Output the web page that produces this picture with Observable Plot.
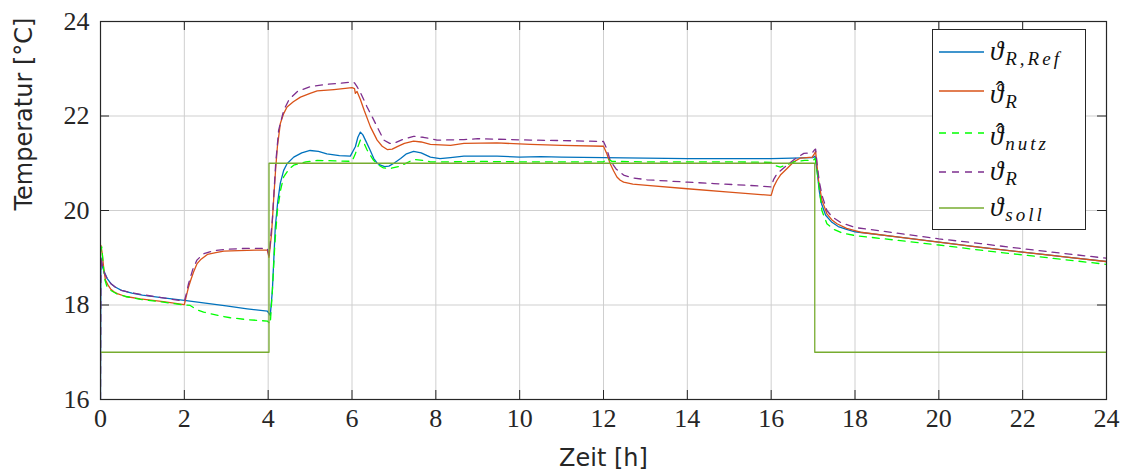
<!DOCTYPE html>
<html><head><meta charset="utf-8">
<script src="https://cdn.jsdelivr.net/npm/d3@7"></script>
<script src="https://cdn.jsdelivr.net/npm/@observablehq/plot@0.6"></script>
<style>
body{margin:0;background:#fff}
#wrap{position:relative;width:1126px;height:473px}
.legend{position:absolute;box-sizing:border-box;background:#fff;border:1px solid #262626;font-family:'Liberation Serif','Times New Roman',Tinos,'DejaVu Serif',serif;color:#111}
.legend .row{position:absolute;white-space:nowrap;font-style:italic;font-size:27px;line-height:27px}
.legend .sub{position:relative;top:5px;margin-left:2px;font-size:19px;letter-spacing:3px}
.legend .hat{position:absolute;width:20px;text-align:center;font-size:26px;line-height:26px}
</style>
</head><body>
<div id="wrap"></div>
<script>
// ---- data ----
const xTicks = [0,2,4,6,8,10,12,14,16,18,20,22,24];
const yTicks = [16,18,20,22,24];
const xLabel = "Zeit [h]";
const yLabel = "Temperatur [°C]";

// theta_R,Ref
const tRef = [0,0.01,0.05,0.1,0.16,0.25,0.35,0.5,0.75,1.0,1.5,2.0,2.5,3.0,3.5,3.98,4.05,4.1,4.17,4.23,4.29,4.37,4.45,4.61,4.8,5.0,5.2,5.4,5.7,5.96,6.08,6.14,6.2,6.26,6.32,6.42,6.52,6.6,6.68,6.78,6.88,7.0,7.16,7.3,7.47,7.65,7.87,8.1,8.35,8.67,9.0,9.46,10.0,10.5,11.0,12,13,14,15,16,16.5,17.0,17.05,17.1,17.15,17.2,17.3,17.45,17.6,17.8,18,19,20,21,22,23,24];
const vRef = [16,19.0,18.8,18.68,18.56,18.45,18.38,18.31,18.25,18.21,18.15,18.10,18.04,17.98,17.92,17.87,17.78,18.3,19.65,20.2,20.58,20.85,20.99,21.13,21.22,21.27,21.25,21.2,21.16,21.15,21.35,21.55,21.66,21.6,21.49,21.3,21.1,21.0,20.96,20.93,20.94,21.0,21.1,21.2,21.25,21.22,21.13,21.1,21.12,21.15,21.15,21.15,21.13,21.14,21.13,21.12,21.11,21.1,21.1,21.1,21.11,21.12,21.15,20.8,20.4,20.15,19.9,19.75,19.66,19.6,19.55,19.44,19.33,19.22,19.12,19.02,18.92];

// theta-hat_R
const tHat = [0,0.01,0.04,0.08,0.12,0.18,0.24,0.32,0.4,0.6,0.95,1.5,2.0,2.05,2.1,2.15,2.22,2.3,2.4,2.55,2.75,2.94,3.3,3.7,3.98,4.02,4.08,4.13,4.18,4.22,4.29,4.37,4.45,4.6,4.77,5.0,5.17,5.57,6.0,6.06,6.08,6.12,6.2,6.29,6.44,6.6,6.72,6.84,6.96,7.08,7.25,7.47,7.65,7.87,8.35,8.67,9.46,10.26,11.0,12.0,12.08,12.16,12.24,12.32,12.4,12.48,12.7,13.04,14.0,15.0,16.0,16.06,16.14,16.22,16.38,16.54,16.7,16.98,17.03,17.06,17.1,17.13,17.21,17.33,17.45,17.57,17.8,18.13,19,20,21,22,23,24];
const vHat = [19.2,19.26,19.1,18.75,18.52,18.42,18.34,18.28,18.24,18.18,18.13,18.07,18.01,18.2,18.38,18.52,18.7,18.87,18.97,19.07,19.11,19.14,19.15,19.16,19.16,19.01,19.5,20.22,20.9,21.35,21.84,22.05,22.19,22.3,22.4,22.48,22.53,22.56,22.6,22.58,22.48,22.52,22.35,22.12,21.77,21.49,21.36,21.29,21.3,21.35,21.42,21.47,21.45,21.4,21.38,21.42,21.43,21.4,21.38,21.36,21.2,20.99,20.84,20.71,20.64,20.6,20.56,20.53,20.46,20.39,20.32,20.5,20.64,20.75,20.89,21.03,21.11,21.13,21.2,21.25,20.9,20.64,20.22,19.93,19.8,19.72,19.62,19.54,19.44,19.33,19.22,19.12,19.02,18.92];

// theta-hat_nutz
const tNutz = [0,0.03,0.06,0.1,0.15,0.24,0.4,0.6,0.95,1.5,2.0,2.14,2.3,2.46,2.8,3.1,3.5,3.98,4.05,4.1,4.16,4.22,4.3,4.37,4.5,4.61,4.9,5.17,5.6,6.0,6.08,6.2,6.3,6.36,6.5,6.6,6.75,6.92,7.16,7.47,7.7,7.87,8.35,9,10,11,12,12.1,12.2,13,14,15,16,16.1,16.22,16.38,16.54,16.8,17.0,17.05,17.1,17.15,17.21,17.33,17.5,17.7,18,19,20,21,22,23,24];
const vNutz = [19.1,19.23,18.9,18.55,18.4,18.31,18.23,18.18,18.12,18.06,18.0,17.99,17.9,17.85,17.78,17.73,17.69,17.66,17.6,18.3,19.3,20.0,20.45,20.71,20.88,20.96,21.03,21.06,21.05,21.04,21.2,21.49,21.4,21.28,21.08,20.98,20.9,20.89,20.94,21.08,21.06,21.03,21.03,21.04,21.03,21.03,21.03,21.1,21.04,21.03,21.03,21.03,21.02,20.95,20.92,20.97,21.03,21.06,21.06,21.1,20.8,20.45,20.0,19.72,19.6,19.52,19.47,19.37,19.27,19.16,19.06,18.96,18.86];

// theta_R
const tR = [0,0.01,0.05,0.1,0.16,0.25,0.35,0.5,0.75,1.0,1.5,2.0,2.05,2.1,2.2,2.3,2.45,2.7,3.0,3.5,3.98,4.02,4.1,4.18,4.25,4.37,4.5,4.7,5.0,5.4,5.7,6.0,6.06,6.12,6.2,6.36,6.5,6.6,6.76,6.9,7.0,7.2,7.47,7.7,8.03,8.67,9.0,10.26,11.0,12.0,12.08,12.16,12.3,12.48,12.7,13.04,14.0,14.63,15.5,16.0,16.06,16.14,16.38,16.55,16.78,16.98,17.03,17.06,17.1,17.15,17.22,17.33,17.45,17.65,18,19,20,21,22,23,24];
const vR = [16,19.0,18.8,18.66,18.56,18.45,18.38,18.31,18.26,18.22,18.15,18.08,18.25,18.45,18.75,18.95,19.08,19.15,19.18,19.2,19.2,19.05,19.8,21.0,21.7,22.12,22.35,22.52,22.62,22.67,22.69,22.72,22.7,22.62,22.5,22.19,21.95,21.77,21.49,21.42,21.42,21.5,21.57,21.55,21.49,21.5,21.52,21.49,21.48,21.46,21.3,21.06,20.88,20.75,20.69,20.65,20.6,20.57,20.53,20.5,20.66,20.78,20.96,21.08,21.21,21.22,21.28,21.3,20.95,20.6,20.3,20.0,19.87,19.75,19.64,19.52,19.40,19.3,19.19,19.09,18.99];

// theta_soll
const tSoll = [0,4.02,4.02,17.04,17.04,24];
const vSoll = [17,17,21,21,17,17];

const seriesKeys   = ["ref","hat","nutz","r","soll"];
const seriesSubs   = ["R,Ref","R","nutz","R","soll"];
const seriesHats   = [false,true,true,false,false];
const seriesColors = ["#0072BD","#D95319","#00FF00","#7E2F8E","#77AC30"];
const seriesDash   = [null,null,"7,6","7,6",null];
const seriesT = [tRef,tHat,tNutz,tR,tSoll];
const seriesV = [vRef,vHat,vNutz,vR,vSoll];

// ---- build ----
const lineMarks = seriesKeys.map((k,i) => {
  const rows = seriesT[i].map((t,j) => ({t, v: seriesV[i][j]}));
  return Plot.line(rows, {x:"t", y:"v", stroke: seriesColors[i], strokeWidth: 1.3,
    strokeDasharray: seriesDash[i] || undefined, clip: true, curve: "linear"});
});

const serifFont = "'Liberation Serif', 'Times New Roman', Tinos, 'DejaVu Serif', serif";
const sansFont = "'DejaVu Sans', sans-serif";
const frameH = 378, frameW = 1006, tickLen = 9;
const chart = Plot.plot({
  width: 1126, height: 473,
  marginLeft: 100, marginRight: 20, marginTop: 21, marginBottom: 74,
  x: {domain: [0,24], axis: null},
  y: {domain: [16,24], axis: null},
  marks: [
    Plot.gridX(xTicks, {stroke: "#cfcfcf", strokeOpacity: 1, strokeWidth: 1}),
    Plot.gridY(yTicks, {stroke: "#cfcfcf", strokeOpacity: 1, strokeWidth: 1}),
    Plot.tickX(xTicks, {x: d=>d, stroke: "#262626", insetTop: frameH - tickLen}),
    Plot.tickX(xTicks, {x: d=>d, stroke: "#262626", insetBottom: frameH - tickLen}),
    Plot.tickY(yTicks, {y: d=>d, stroke: "#262626", insetRight: frameW - tickLen}),
    Plot.tickY(yTicks, {y: d=>d, stroke: "#262626", insetLeft: frameW - tickLen}),
    ...lineMarks,
    Plot.frame({stroke: "#262626", strokeWidth: 1.2}),
    Plot.text(xTicks, {x: d=>d, text: d=>String(d), frameAnchor: "bottom", dy: 9, lineAnchor: "top",
      fontFamily: serifFont, fontSize: 26, fill: "#262626"}),
    Plot.text(yTicks, {y: d=>d, text: d=>String(d), frameAnchor: "left", dx: -11, textAnchor: "end", lineAnchor: "middle",
      fontFamily: serifFont, fontSize: 26, fill: "#262626"}),
    Plot.text([xLabel], {text: d=>d, frameAnchor: "bottom", dy: 59, lineAnchor: "middle", fontFamily: sansFont, fontSize: 24, fill: "#262626"}),
    Plot.text([yLabel], {text: d=>d, frameAnchor: "left", dx: -76, rotate: -90, lineAnchor: "middle", fontFamily: sansFont, fontSize: 24, fill: "#262626"})
  ]
});
const wrap = document.getElementById("wrap");
wrap.appendChild(chart);

// ---- legend (HTML box laid over the plot's upper right corner) ----
const legendBox = {x: 932, y: 29, w: 154, h: 201};
const legendRowY = [52, 91, 133, 172, 208];
const ox = legendBox.x + 1, oy = legendBox.y + 1; // inner origin (inside border)
const legend = d3.select(wrap).append("div").attr("class", "legend")
  .style("left", legendBox.x + "px").style("top", legendBox.y + "px")
  .style("width", legendBox.w + "px").style("height", legendBox.h + "px");
const sampleSvg = legend.append("svg").attr("width", legendBox.w - 2).attr("height", legendBox.h - 2)
  .style("position", "absolute").style("left", 0).style("top", 0);
seriesKeys.forEach((k,i) => {
  const y = legendRowY[i] - oy;
  sampleSvg.append("line").attr("x1", 939 - ox).attr("x2", 984 - ox).attr("y1", y).attr("y2", y)
    .attr("stroke", seriesColors[i]).attr("stroke-width", 1.3)
    .attr("stroke-dasharray", seriesDash[i]);
  const base = y + (seriesHats[i] ? 13 : 9);
  const row = legend.append("div").attr("class", "row")
    .style("left", (990 - ox) + "px").style("top", (base - 22.6) + "px");
  row.append("span").text("\u03D1");
  row.append("span").attr("class", "sub").text(seriesSubs[i]);
  if (seriesHats[i]) {
    legend.append("div").attr("class", "hat")
      .style("left", (1000 - ox - 10) + "px").style("top", (base - 4 - 21.8) + "px")
      .text("\u02C6");
  }
});
</script>
</body></html>
